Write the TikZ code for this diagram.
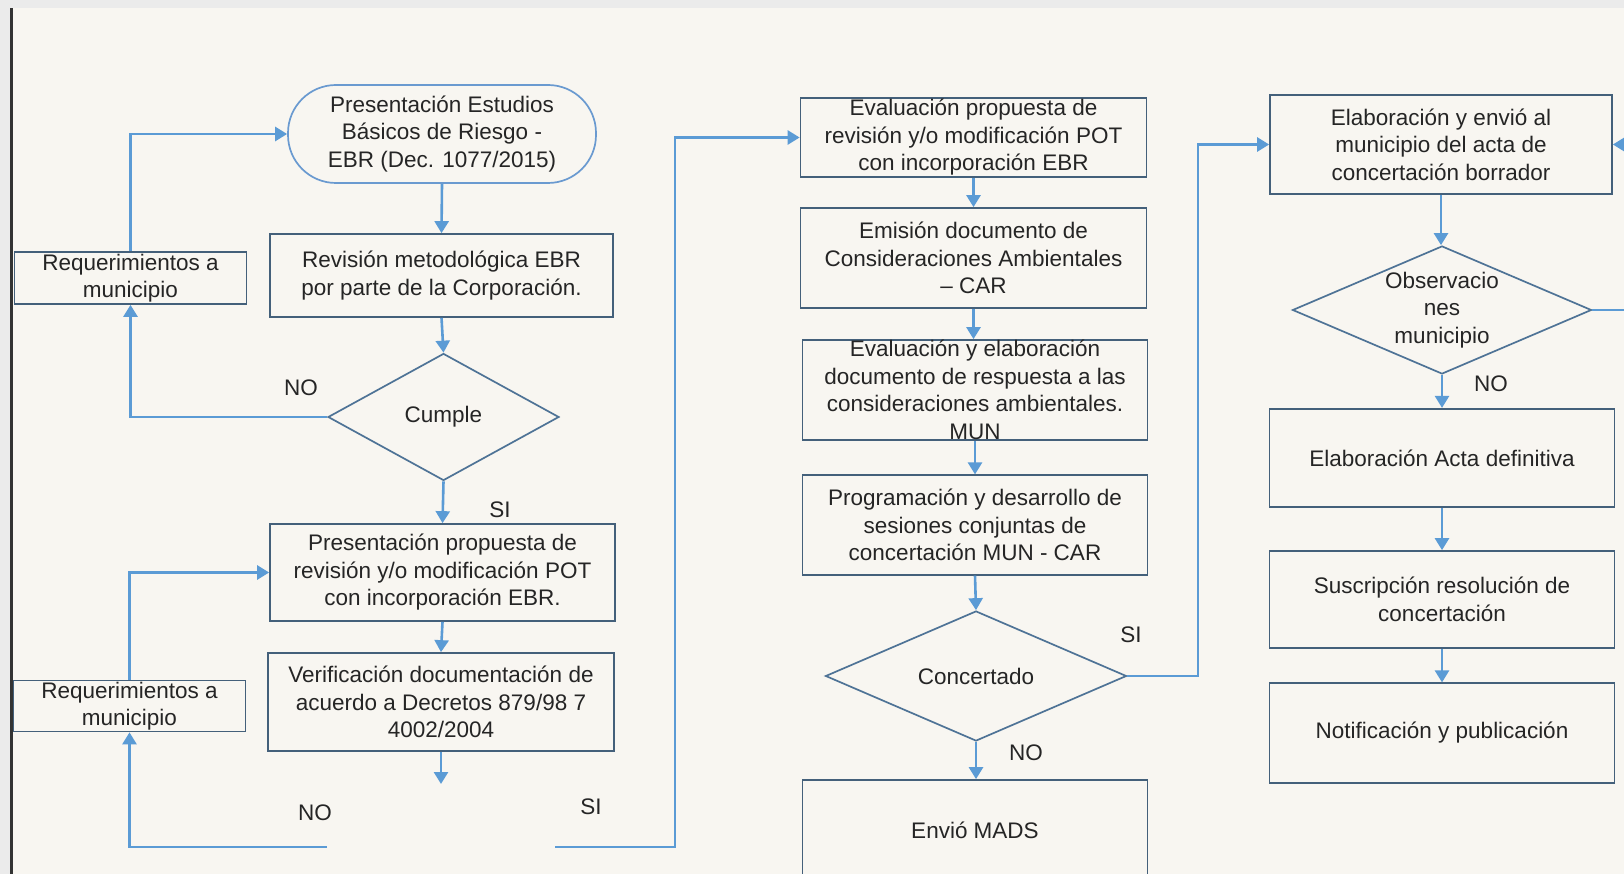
\documentclass[tikz,border=0pt]{standalone}
\usepackage{fontspec}
\setmainfont{Liberation Sans}
\usetikzlibrary{shapes.geometric,arrows.meta}
\definecolor{bgc}{HTML}{F8F6F1}
\definecolor{boxc}{HTML}{44607A}
\definecolor{diac}{HTML}{4E7396}
\definecolor{termc}{HTML}{6A9AD0}
\definecolor{arrc}{HTML}{5B9BD5}
\definecolor{txtc}{HTML}{252525}
\begin{document}
\begin{tikzpicture}[x=1pt,y=-1pt,
  every node/.style={text=txtc, font=\fontsize{22.5}{27.5}\selectfont},
  proc/.style={draw=boxc, line width=1.7pt, rectangle, align=center, inner sep=0pt},
  term/.style={draw=termc, line width=1.7pt, rectangle, rounded corners=48pt, align=center, inner sep=0pt},
  dec/.style={draw=diac, line width=1.7pt, diamond, aspect=2.3, align=center, inner sep=0pt},
  lbl/.style={inner sep=0pt},
  conn/.style={draw=arrc, line width=2.6pt},
  arr/.style={conn, -{Triangle[width=14pt,length=12pt]}}
]
\useasboundingbox (0,0) rectangle (1624,874);
% background
\fill[bgc] (0,0) rectangle (1624,874);
\fill[black!8] (0,0) rectangle (1624,8.5);
\fill[black!8] (0,8.5) rectangle (10,874);
\fill[black!80] (10,8.5) rectangle (12.5,874);

% column 1
\node[term, minimum width=308pt, minimum height=98pt] (term) at (442,134) {Presentación Estudios\\Básicos de Riesgo -\\EBR (Dec. 1077/2015)};
\node[proc, minimum width=232pt, minimum height=52pt] (req1) at (130.5,278) {Requerimientos a\\municipio};
\node[proc, minimum width=343pt, minimum height=83pt] (rev) at (441.5,275.5) {Revisión metodológica EBR\\por parte de la Corporación.};
\node[dec, minimum width=231pt, minimum height=127pt] (cumple) at (443.5,417) {Cumple};
\node[proc, minimum width=345pt, minimum height=97pt] (prop) at (442.5,572.5) {Presentación propuesta de\\revisión y/o modificación POT\\con incorporación EBR.};
\node[proc, minimum width=346pt, minimum height=98pt] (verif) at (441,702) {Verificación documentación de\\acuerdo a Decretos 879/98 7\\4002/2004};
\node[proc, minimum width=232pt, minimum height=51pt] (req2) at (129.5,706) {Requerimientos a\\municipio};

\coordinate (vend) at (441,784);
\coordinate (noend) at (327,847);
\coordinate (siend) at (555,847);
\coordinate (sibend) at (675,847);

\node[lbl] (no1) at (301,388) {NO};
\node[lbl] (si1) at (500,510) {SI};
\node[lbl] (no2) at (315,813) {NO};
\node[lbl] (si2) at (591,807) {SI};

\draw[arr] (term.south) -- (rev.north);
\draw[arr] (req1.north) |- (term.west);
\draw[arr] (rev.south) -- (cumple.north);
\draw[arr] (cumple.west) -| (req1.south);
\draw[arr] (cumple.south) -- (prop.north);
\draw[arr] (prop.south) -- (verif.north);
\draw[arr] (verif.south) -- (vend);
\draw[arr] (noend) -| (req2.south);
\draw[arr] (req2.north) |- (prop.west);

% column 2
\node[proc, minimum width=346pt, minimum height=79pt] (eval) at (973.5,137.5) {Evaluación propuesta de\\revisión y/o modificación POT\\con incorporación EBR};
\node[proc, minimum width=346pt, minimum height=100pt] (emis) at (973.5,258) {Emisión documento de\\Consideraciones Ambientales\\– CAR};
\node[proc, minimum width=345pt, minimum height=100pt] (evel) at (975,390) {Evaluación y elaboración\\documento de respuesta a las\\consideraciones ambientales.\\MUN};
\node[proc, minimum width=345pt, minimum height=99.5pt] (prog) at (975,525) {Programación y desarrollo de\\sesiones conjuntas de\\concertación MUN - CAR};
\node[dec, minimum width=301pt, minimum height=130pt] (conc) at (976,676) {Concertado};
\node[proc, minimum width=345pt, minimum height=100pt] (mads) at (975,830) {Envió MADS};
\coordinate (cbend) at (1198,676);

\node[lbl] (si3) at (1131,635) {SI};
\node[lbl] (no3) at (1026,753) {NO};

\draw[arr] (siend) -- (sibend) |- (eval.west);
\draw[arr] (eval.south) -- (emis.north);
\draw[arr] (emis.south) -- (emis.south |- evel.north);
\draw[arr] (evel.south) -- (prog.north);
\draw[arr] (prog.south) -- (conc.north);
\draw[arr] (conc.south) -- (conc.south |- mads.north);

% column 3
\node[proc, minimum width=342pt, minimum height=99pt] (elab) at (1441,144.5) {Elaboración y envió al\\municipio del acta de\\concertación borrador};
\node[dec, minimum width=299pt, minimum height=128pt] (obs) at (1442,310) {Observacio\\nes\\municipio};
\node[proc, minimum width=345pt, minimum height=98.5pt] (acta) at (1442,458) {Elaboración Acta definitiva};
\node[proc, minimum width=345pt, minimum height=97pt] (susc) at (1442,599.5) {Suscripción resolución de\\concertación};
\node[proc, minimum width=345pt, minimum height=99.5pt] (notif) at (1442,733) {Notificación y publicación};
\coordinate (obsout) at (1630,310);
\coordinate (elabin) at (1630,144.5);

\node[lbl] (no4) at (1491,384) {NO};

\draw[arr] (conc.east) -- (cbend) |- (elab.west);
\draw[arr] (elab.south) -- (elab.south |- obs.north);
\draw[arr] (obs.south) -- (obs.south |- acta.north);
\draw[arr] (acta.south) -- (acta.south |- susc.north);
\draw[arr] (susc.south) -- (susc.south |- notif.north);
\draw[conn] (obs.east) -- (obsout);
\draw[arr] (elabin) -- (elab.east);
\end{tikzpicture}
\end{document}
